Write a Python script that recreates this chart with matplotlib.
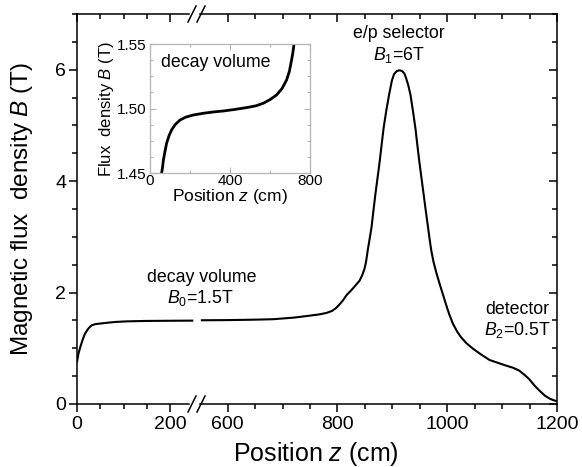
import matplotlib
matplotlib.use('Agg')
import matplotlib.pyplot as plt
import numpy as np
from matplotlib.ticker import FixedLocator, MultipleLocator
from matplotlib.lines import Line2D

plt.rcParams['font.family'] = ['Liberation Sans', 'DejaVu Sans']
plt.rcParams['mathtext.fontset'] = 'custom'
plt.rcParams['mathtext.rm'] = 'Liberation Sans'
plt.rcParams['mathtext.it'] = 'Liberation Sans:italic'

# ---------------- data ----------------
z_main = [0, 3, 7, 12, 17, 24, 31, 40, 49, 67, 83, 108, 150, 217, 250,
          551, 567, 600, 633, 660, 683, 700, 720, 745, 768, 780, 790, 797, 803, 810,
          817, 825, 833, 840, 845, 849, 852, 855, 858.5, 862, 865.5, 869, 873, 877,
          880.5, 884, 889, 894, 899, 903, 908, 913, 918, 922, 925, 929, 933, 937.5,
          942, 945.5, 949, 953, 957, 961, 965, 968, 971, 975, 980, 986, 992, 998,
          1004, 1010, 1018, 1025, 1035, 1046, 1060, 1077, 1092, 1107, 1120, 1131,
          1140, 1149, 1160, 1168, 1178, 1186, 1193, 1200]
b_main = [0.75, 0.9, 1.02, 1.15, 1.26, 1.35, 1.41, 1.435, 1.443, 1.46, 1.473, 1.4835,
          1.491, 1.495, 1.4965,
          1.503, 1.504, 1.506, 1.511, 1.516, 1.522, 1.535, 1.55, 1.58, 1.61, 1.635, 1.67,
          1.72, 1.78, 1.86, 1.96, 2.04, 2.13, 2.21, 2.31, 2.42, 2.55, 2.75, 2.96, 3.17,
          3.47, 3.76, 4.06, 4.36, 4.66, 4.95, 5.27, 5.55, 5.8, 5.92, 5.975, 5.99, 5.975,
          5.93, 5.85, 5.72, 5.55, 5.26, 4.95, 4.65, 4.36, 4.06, 3.76, 3.46, 3.17, 2.95,
          2.75, 2.55, 2.36, 2.16, 1.97, 1.78, 1.6, 1.45, 1.3, 1.2, 1.09, 1.0, 0.9, 0.79,
          0.74, 0.69, 0.65, 0.6, 0.53, 0.45, 0.32, 0.24, 0.15, 0.1, 0.07, 0.05]

z_inset = [58, 63, 67, 75, 83, 95, 108, 125, 150, 180, 217, 270, 320, 367, 420, 483,
           530, 567, 600, 633, 660, 683, 697, 708, 715, 720]
b_inset = [1.45, 1.455, 1.4603, 1.467, 1.4732, 1.479, 1.4835, 1.4875, 1.4912, 1.4935,
           1.4951, 1.4965, 1.4975, 1.4982, 1.4993, 1.5008, 1.5022, 1.5042, 1.507, 1.5106,
           1.5155, 1.5222, 1.529, 1.5377, 1.544, 1.55]

left_ticks = [0, 200]
right_ticks = [600, 800, 1000, 1200]
y_ticks = [0, 2, 4, 6]
inset_xticks = [0, 400, 800]
inset_yticks = [1.45, 1.50, 1.55]

# ---------------- figure ----------------
W, H = 582, 467
fig = plt.figure(figsize=(W / 100, H / 100), dpi=100)

def fx(px):
    return px / W

def fy(py):
    return 1 - py / H

X0, XB, X1 = 77, 197, 557
YT, YB = 14, 404
axL = fig.add_axes([fx(X0), fy(YB), fx(XB) - fx(X0), fy(YT) - fy(YB)])
axR = fig.add_axes([fx(XB), fy(YB), fx(X1) - fx(XB), fy(YT) - fy(YB)])

z = np.array(z_main, dtype=float)
b = np.array(b_main, dtype=float)
mL = z <= 258
mR = z >= 544
axL.plot(z[mL], b[mL], color='black', lw=1.5, solid_capstyle='butt', solid_joinstyle='round')
axR.plot(z[mR], b[mR], color='black', lw=1.5, solid_capstyle='butt', solid_joinstyle='round')

axL.set_xlim(0, 258)
axR.set_xlim(544, 1200)
for ax in (axL, axR):
    ax.set_ylim(0, 7)
    ax.patch.set_alpha(0)
    for s in ax.spines.values():
        s.set_linewidth(1.1)
    ax.spines['top'].set_visible(False)

tick_major = dict(length=5.8, width=1.1)
tick_minor = dict(length=3.6, width=1.1)
TICK_FS = 14

# left axes
axL.spines['right'].set_visible(False)
axL.spines['bottom'].set_bounds(0, 240)
axL.xaxis.set_major_locator(FixedLocator(left_ticks))
axL.xaxis.set_minor_locator(FixedLocator([50, 100, 150]))
axL.yaxis.set_major_locator(FixedLocator(y_ticks))
axL.yaxis.set_minor_locator(MultipleLocator(0.5))
axL.tick_params(which='major', direction='out', labelsize=TICK_FS, **tick_major)
axL.tick_params(which='minor', direction='out', **tick_minor)
axL.tick_params(axis='x', pad=3)
axL.tick_params(axis='y', pad=2)

# right axes
axR.spines['left'].set_visible(False)
axR.spines['bottom'].set_bounds(549, 1200)
axR.xaxis.set_major_locator(FixedLocator(right_ticks))
axR.xaxis.set_minor_locator(FixedLocator(list(range(650, 1200, 50))))
axR.yaxis.tick_right()
axR.yaxis.set_major_locator(FixedLocator(y_ticks))
axR.yaxis.set_minor_locator(MultipleLocator(0.5))
axR.tick_params(axis='y', which='major', direction='in', labelright=False, **tick_major)
axR.tick_params(axis='y', which='minor', direction='in', **tick_minor)
axR.tick_params(axis='x', which='major', direction='out', labelsize=TICK_FS, pad=3, **tick_major)
axR.tick_params(axis='x', which='minor', direction='out', **tick_minor)

# top axes (ticks inward)
for ax, bnd, maj, mn in ((axL, (0, 240), left_ticks, [50, 100, 150]),
                         (axR, (549, 1200), right_ticks, list(range(650, 1200, 50)))):
    sec = ax.secondary_xaxis('top')
    sec.spines['top'].set_linewidth(1.1)
    sec.spines['top'].set_bounds(*bnd)
    sec.xaxis.set_major_locator(FixedLocator(maj))
    sec.xaxis.set_minor_locator(FixedLocator(mn))
    sec.tick_params(which='major', direction='in', labeltop=False, **tick_major)
    sec.tick_params(which='minor', direction='in', **tick_minor)

# break marks
for yc in (YT, YB):
    for xs in (188, 197):
        fig.add_artist(Line2D([fx(xs), fx(xs + 8)], [fy(yc + 8), fy(yc - 8)],
                              transform=fig.transFigure, color='black', lw=1.1))

# axis labels
fig.text(fx(316), fy(454), 'Position $z$ (cm)', ha='center', va='center', fontsize=18)
fig.text(fx(22), fy(209), 'Magnetic flux  density $B$ (T)', ha='center', va='center',
         rotation=90, fontsize=17.5)

# annotations
ANN_FS = 12.8
fig.text(fx(202), fy(278), 'decay volume', ha='center', va='center', fontsize=ANN_FS)
fig.text(fx(200), fy(298), '$B_0$=1.5T', ha='center', va='center', fontsize=ANN_FS)
fig.text(fx(399), fy(34), 'e/p selector', ha='center', va='center', fontsize=ANN_FS)
fig.text(fx(399), fy(55), '$B_1$=6T', ha='center', va='center', fontsize=ANN_FS)
fig.text(fx(517), fy(309), 'detector', ha='center', va='center', fontsize=ANN_FS)
fig.text(fx(517), fy(330), '$B_2$=0.5T', ha='center', va='center', fontsize=ANN_FS)

# inset
ins = fig.add_axes([fx(150), fy(173.3), fx(310) - fx(150), fy(44) - fy(173.3)])
ins.plot(z_inset, b_inset, color='black', lw=2.0, solid_joinstyle='round')
ins.set_xlim(0, 800)
ins.set_ylim(1.45, 1.55)
gray = '#b4b4b4'
for s in ins.spines.values():
    s.set_color(gray)
    s.set_linewidth(0.9)
ins.xaxis.set_major_locator(FixedLocator(inset_xticks))
ins.xaxis.set_minor_locator(MultipleLocator(200))
ins.yaxis.set_major_locator(FixedLocator(inset_yticks))
ins.yaxis.set_minor_locator(MultipleLocator(0.0125))
ins.set_yticklabels(['1.45', '1.50', '1.55'])
ins.tick_params(which='both', direction='in', color=gray, top=True, right=True,
                labelsize=11)
ins.tick_params(axis='x', pad=0.5)
ins.tick_params(axis='y', pad=2.5)
ins.tick_params(which='major', length=4, width=0.8)
ins.tick_params(which='minor', length=2.5, width=0.8)
ins.set_xlabel('Position $z$ (cm)', fontsize=12.5, labelpad=-1)
ins.set_ylabel('Flux  density $B$ (T)', fontsize=12, labelpad=0.5)
ins.text(0.07, 0.86, 'decay volume', transform=ins.transAxes, ha='left', va='center',
         fontsize=ANN_FS)
# keep the corner labels "1.45" and "0" from colliding
ins.get_yticklabels()[0].set_verticalalignment('center_baseline')

fig.savefig('out.png', dpi=100)
